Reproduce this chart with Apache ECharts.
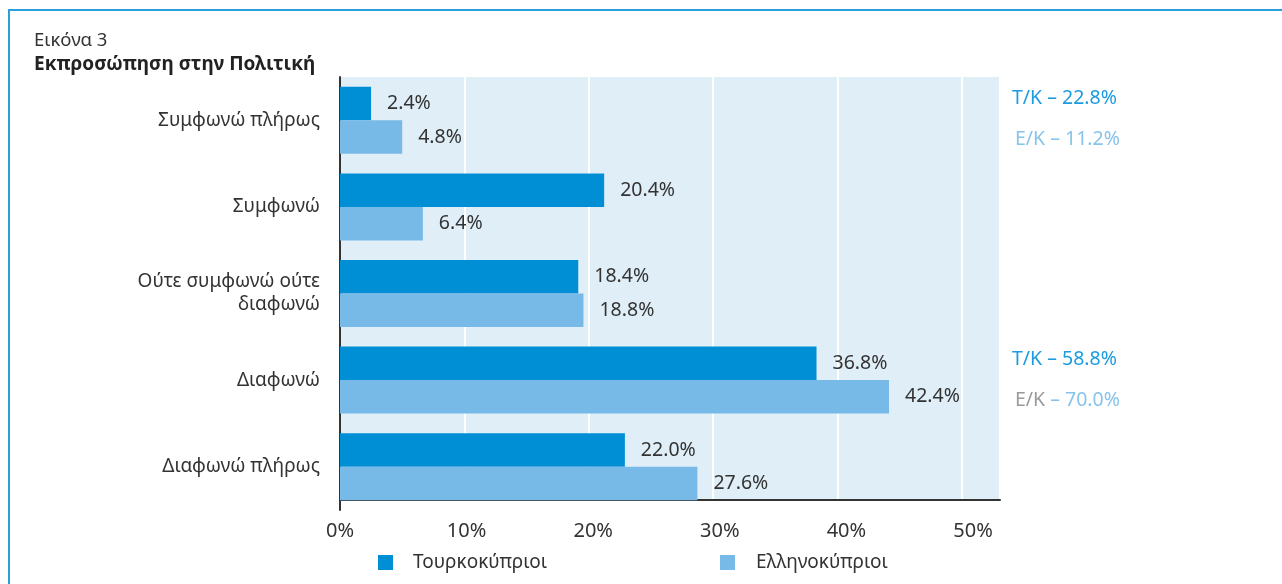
<!DOCTYPE html>
<html>
<head>
<meta charset="utf-8">
<script src="https://cdn.jsdelivr.net/npm/echarts@6/dist/echarts.min.js"></script>
<style>
  html, body { margin: 0; padding: 0; background: #fff; }
  #wrap { position: relative; width: 1282px; height: 584px; overflow: hidden; }
  #frame { position: absolute; left: 8px; top: 9px; width: 1300px; height: 600px;
           border-top: 2px solid #2a9fdc; border-left: 2px solid #2a9fdc; box-sizing: border-box; }
  #chart { position: absolute; left: 0; top: 0; width: 1282px; height: 584px; }
</style>
</head>
<body>
<div id="wrap">
  <div id="frame"></div>
  <div id="chart"></div>
</div>
<script>
// data
const categories = ['Συμφωνώ πλήρως', 'Συμφωνώ', 'Ούτε συμφωνώ ούτε\nδιαφωνώ', 'Διαφωνώ', 'Διαφωνώ πλήρως'];
const seriesNames = ['Τουρκοκύπριοι', 'Ελληνοκύπριοι'];
const turkishCypriots = [2.4, 20.4, 18.4, 36.8, 22.0];
const greekCypriots = [4.8, 6.4, 18.8, 42.4, 27.6];
const tickValues = [0, 10, 20, 30, 40, 50];
// side notes: agree total / disagree total
const noteAgree = [22.8, 11.2];
const noteDisagree = [58.8, 70.0];

const DARK = '#008fd5';
const LIGHT = '#77b9e7';
const TEXT = '#333';
const FONT = "'Noto Sans', 'Open Sans', sans-serif";

const chart = echarts.init(document.getElementById('chart'));

const valueLabel = {
  show: true,
  position: 'right',
  distance: 16,
  fontSize: 19.5,
  color: TEXT,
  fontFamily: FONT,
  formatter: p => p.value.toFixed(1) + '%'
};

chart.setOption({
  animation: false,
  textStyle: { fontFamily: FONT },
  title: {
    text: 'Εικόνα 3',
    subtext: 'Εκπροσώπηση στην Πολιτική',
    left: 29,
    top: 25,
    itemGap: 3,
    textStyle: { fontSize: 18.5, fontWeight: 'normal', color: TEXT, lineHeight: 21 },
    subtextStyle: { fontSize: 19, fontWeight: 'bold', color: '#222', lineHeight: 21 }
  },
  legend: [
    {
      data: [seriesNames[0]], left: 373, top: 548, icon: 'rect',
      itemWidth: 15, itemHeight: 15,
      textStyle: { fontSize: 19, color: TEXT, padding: [0, 0, 0, 15] }
    },
    {
      data: [seriesNames[1]], left: 715, top: 548, icon: 'rect',
      itemWidth: 15, itemHeight: 15,
      textStyle: { fontSize: 19, color: TEXT, padding: [0, 0, 0, 16] }
    }
  ],
  grid: [
    // bars
    { left: 340, top: 77, width: 660, height: 433, containLabel: false },
    // shaded frame with grid lines and x axis
    { left: 340, top: 77, width: 660, height: 423, show: true, backgroundColor: '#e0eef8', borderWidth: 0 }
  ],
  xAxis: [
    { gridIndex: 0, type: 'value', min: 0, max: 50.97, show: false },
    {
      gridIndex: 1, type: 'value', position: 'bottom', min: 0, max: 53.05, interval: 10,
      axisLine: { show: true, lineStyle: { color: '#333', width: 2 } },
      axisTick: { show: false },
      axisLabel: { show: false },
      splitLine: { show: true, lineStyle: { color: '#fff', width: 2 } }
    },
    {
      gridIndex: 1, type: 'value', position: 'bottom', min: 0, max: 52.13, interval: 10,
      axisLine: { show: false }, axisTick: { show: false }, splitLine: { show: false },
      axisLabel: {
        margin: 21, fontSize: 20, color: TEXT,
        formatter: v => tickValues.includes(v) ? v + '%' : ''
      }
    }
  ],
  yAxis: [
    {
      gridIndex: 0, type: 'category', data: categories, inverse: true,
      axisLine: { show: true, lineStyle: { color: '#333', width: 2 } },
      axisTick: { show: false },
      axisLabel: { margin: 20, fontSize: 19, color: TEXT, lineHeight: 23, align: 'right' }
    },
    { gridIndex: 1, type: 'category', data: categories, show: false }
  ],
  series: [
    {
      name: seriesNames[0], type: 'bar', xAxisIndex: 0, yAxisIndex: 0,
      data: turkishCypriots, barWidth: 33.5, barGap: '0%',
      itemStyle: { color: DARK }, label: valueLabel
    },
    {
      name: seriesNames[1], type: 'bar', xAxisIndex: 0, yAxisIndex: 0,
      data: greekCypriots, barWidth: 33.5, barGap: '0%',
      itemStyle: { color: LIGHT }, label: valueLabel
    }
  ],
  graphic: [
    {
      type: 'text', x: 1012, y: 98,
      style: { text: 'T/K – ' + noteAgree[0].toFixed(1) + '%', fill: '#1b9ce0', font: '19.5px ' + FONT, verticalAlign: 'middle' }
    },
    {
      type: 'text', x: 1015, y: 139,
      style: { text: 'E/K – ' + noteAgree[1].toFixed(1) + '%', fill: '#88c3eb', font: '19.5px ' + FONT, verticalAlign: 'middle' }
    },
    {
      type: 'text', x: 1012, y: 359,
      style: { text: 'T/K – ' + noteDisagree[0].toFixed(1) + '%', fill: '#1b9ce0', font: '19.5px ' + FONT, verticalAlign: 'middle' }
    },
    {
      type: 'text', x: 1015, y: 400,
      style: {
        text: '{a|E/K} {b|– ' + noteDisagree[1].toFixed(1) + '%}',
        font: '19.5px ' + FONT,
        verticalAlign: 'middle',
        rich: {
          a: { fill: '#9a9a9a', fontSize: 19.5, fontFamily: FONT },
          b: { fill: '#88c3eb', fontSize: 19.5, fontFamily: FONT }
        }
      }
    }
  ]
});
</script>
</body>
</html>
